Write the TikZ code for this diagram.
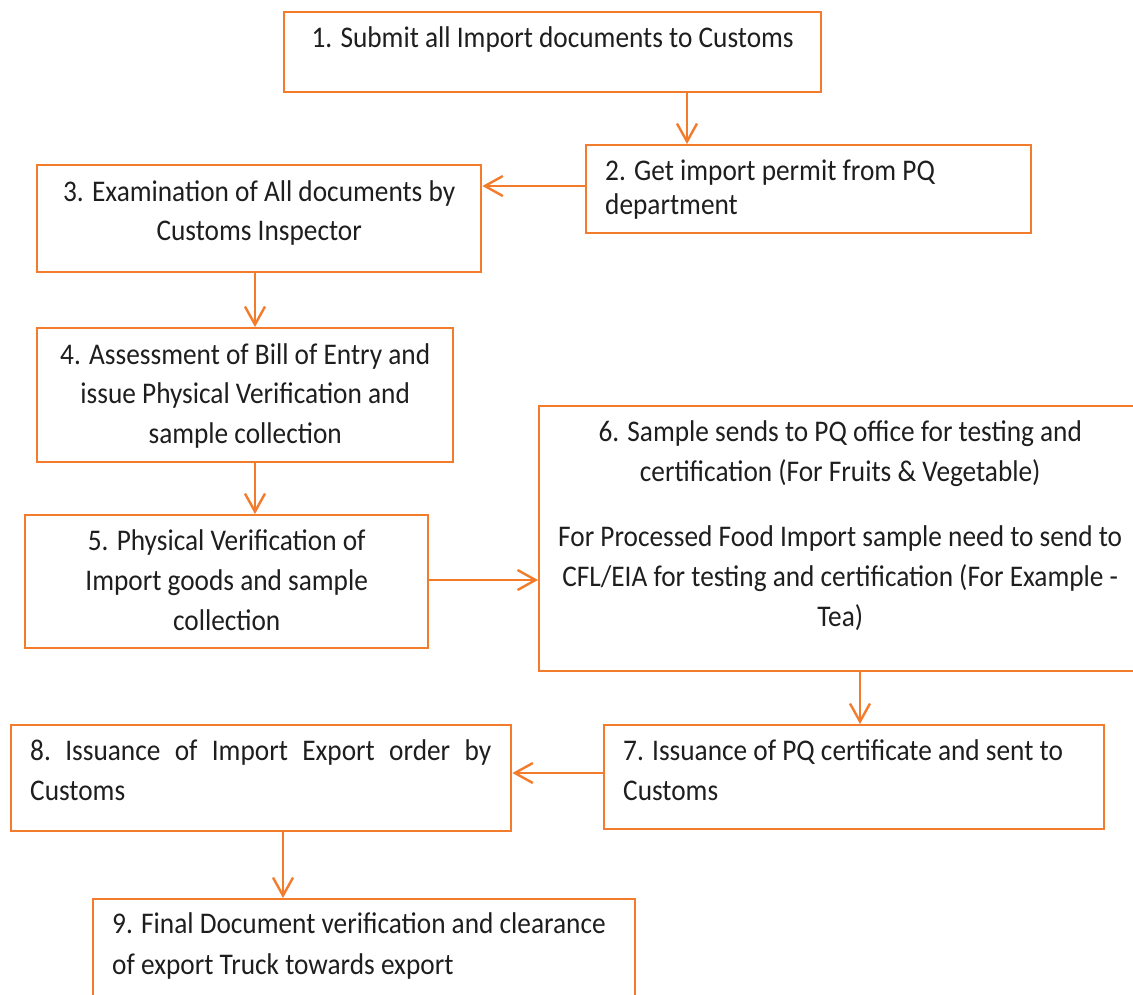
\documentclass[tikz,border=0pt]{standalone}
\usepackage{fontspec}
\setmainfont{Carlito}[FakeStretch=0.91]
\usetikzlibrary{arrows.meta}
\definecolor{flow}{HTML}{F27B2C}
\definecolor{ink}{HTML}{1E1E1E}
\newcommand\lnstrut{\rule{0pt}{28pt}}
\tikzset{
  x=1pt, y=-1pt,
  stepbox/.style={draw=flow, line width=2.4pt, rectangle, inner sep=0pt, anchor=north west},
  txt/.style={inner sep=0pt, text=ink, font=\fontsize{30}{40}\selectfont},
  link/.style={draw=flow, line width=2.4pt, -{Straight Barb[length=18pt,width=20pt]}}
}
\begin{document}
\begin{tikzpicture}
\useasboundingbox (0,0) rectangle (1133,994);
\clip (0,0) rectangle (1133,994);

% boxes
\node[stepbox, minimum width=537pt, minimum height=80pt]  (b1) at (283,11)  {};
\node[stepbox, minimum width=445pt, minimum height=88pt]  (b2) at (585,144) {};
\node[stepbox, minimum width=444pt, minimum height=107pt] (b3) at (36,164)  {};
\node[stepbox, minimum width=416pt, minimum height=134pt] (b4) at (36,327)  {};
\node[stepbox, minimum width=403pt, minimum height=133pt] (b5) at (24,514)  {};
\node[stepbox, minimum width=602pt, minimum height=265pt] (b6) at (538,405) {};
\node[stepbox, minimum width=500pt, minimum height=104pt] (b7) at (603,724) {};
\node[stepbox, minimum width=500pt, minimum height=106pt] (b8) at (10,724)  {};
\node[stepbox, minimum width=542pt, minimum height=130pt] (b9) at (92,898)  {};

% box texts
\node[txt, anchor=north] (t1) at ([yshift=-8pt]b1.north)
  {\lnstrut 1. Submit all Import documents to Customs};
\node[txt, anchor=north west, align=left, font=\fontsize{30}{34}\selectfont] (t2)
  at ([xshift=20pt,yshift=-8pt]b2.north west)
  {\lnstrut 2. Get import permit from PQ\\department};
\node[txt, anchor=north, align=center, font=\fontsize{30}{39}\selectfont] (t3)
  at ([yshift=-9pt]b3.north)
  {\lnstrut 3. Examination of All documents by\\Customs Inspector};
\node[txt, anchor=north, align=center, font=\fontsize{30}{39.5}\selectfont] (t4)
  at ([yshift=-9pt]b4.north)
  {\lnstrut 4. Assessment of Bill of Entry and\\issue Physical Verification and\\sample collection};
\node[txt, anchor=north, align=center] (t5)
  at ([yshift=-8pt]b5.north)
  {\lnstrut 5. Physical Verification of\\Import goods and sample\\collection};
\node[txt, anchor=north, align=center] (t6)
  at ([yshift=-8pt]b6.north)
  {\lnstrut 6. Sample sends to PQ office for testing and\\certification (For Fruits \& Vegetable)\\[25.7pt]
   For Processed Food Import sample need to send to\\CFL/EIA for testing and certification (For Example -\\Tea)};
\node[txt, anchor=north west, align=left] (t7)
  at ([xshift=20pt,yshift=-8pt]b7.north west)
  {\lnstrut 7. Issuance of PQ certificate and sent to\\Customs};
\node[txt, anchor=north west, align=left] (t8)
  at ([xshift=20pt,yshift=-8pt]b8.north west)
  {\lnstrut\makebox[461pt][s]{8.\hfill Issuance\hfill of\hfill Import\hfill Export\hfill order\hfill by}\\Customs};
\node[txt, anchor=north west, align=left, font=\fontsize{30}{41}\selectfont] (t9)
  at ([xshift=20pt,yshift=-7pt]b9.north west)
  {\lnstrut 9. Final Document verification and clearance\\of export Truck towards export};

% connector lines
\coordinate (c12) at (687,0);
\coordinate (c23) at (0,186);
\coordinate (c34) at (255,0);
\coordinate (c56) at (0,580);
\coordinate (c67) at (860,0);
\coordinate (c78) at (0,773);
\coordinate (c89) at (283,0);

\draw[link] (b1.south -| c12) -- (b2.north -| c12);
\draw[link] (b2.west |- c23) -- (b3.east |- c23);
\draw[link] (b3.south -| c34) -- (b4.north -| c34);
\draw[link] (b4.south -| c34) -- (b5.north -| c34);
\draw[link] (b5.east |- c56) -- (b6.west |- c56);
\draw[link] (b6.south -| c67) -- (b7.north -| c67);
\draw[link] (b7.west |- c78) -- (b8.east |- c78);
\draw[link] (b8.south -| c89) -- (b9.north -| c89);
\end{tikzpicture}
\end{document}
